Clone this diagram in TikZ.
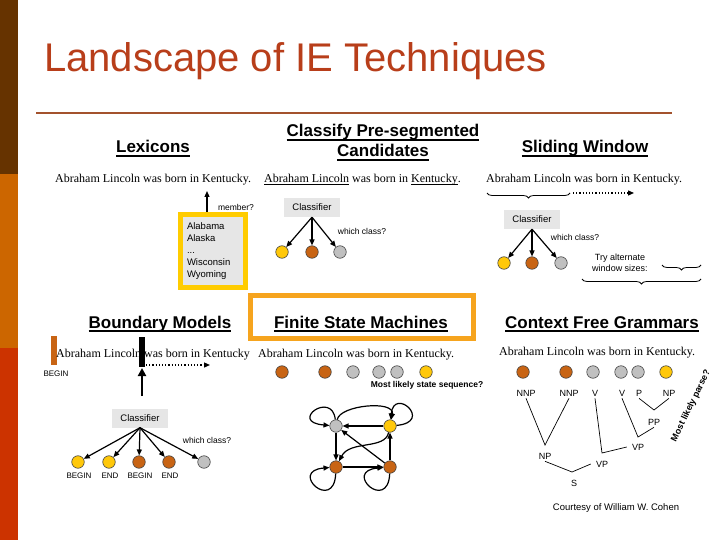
\documentclass[tikz,border=0pt]{standalone}
\usepackage{fontspec}
\setmainfont{Liberation Sans}
\newfontfamily\tnr{Liberation Serif}
\usepackage{tikz}
\usetikzlibrary{arrows.meta,positioning,calc,decorations.pathreplacing}

\definecolor{stripeA}{RGB}{102,51,0}
\definecolor{stripeB}{RGB}{204,102,0}
\definecolor{stripeC}{RGB}{204,51,0}
\definecolor{titlec}{RGB}{184,62,26}
\definecolor{rulec}{RGB}{163,82,45}
\definecolor{lexy}{RGB}{255,204,0}
\definecolor{fsmo}{RGB}{246,164,30}
\definecolor{dotY}{RGB}{255,200,10}
\definecolor{dotB}{RGB}{200,100,20}
\definecolor{dotG}{RGB}{192,192,192}
\definecolor{boxg}{RGB}{230,230,230}

% underline: thickness, depth below baseline, text
\newcommand\undl[3]{\setbox0=\hbox{#3}\rlap{\copy0}\rule[-#2]{\wd0}{#1}}
\newcommand\hdu[1]{\undl{1.4pt}{3.8pt}{#1}}
\newcommand\snu[1]{\undl{0.5pt}{1.8pt}{#1}}

\begin{document}
\begin{tikzpicture}[x=1pt,y=-1pt,
  hd/.style={font=\fontsize{17}{20}\selectfont\bfseries,align=center,inner sep=0pt,anchor=base},
  sent/.style={font=\tnr\fontsize{12}{14}\selectfont,inner sep=0pt,anchor=base west},
  clf/.style={fill=boxg,minimum width=56,minimum height=19,inner sep=0pt,font=\fontsize{9.5}{11}\selectfont},
  st/.style={circle,draw=black!75,line width=0.6pt,fill=#1,minimum size=12.5,inner sep=0pt},
  rx/.style={-{Triangle[length=6pt,width=5pt]},line width=1.2pt},
  dx/.style={-{Triangle[length=6pt,width=5pt]},dotted,line width=1.2pt},
  lab/.style={font=\fontsize{8.5}{10}\selectfont,inner sep=0pt},
  cat/.style={font=\fontsize{9}{10}\selectfont,inner xsep=5pt,inner ysep=2pt},
  tln/.style={line width=0.7pt},
  brc/.style={decorate,decoration={brace,mirror,amplitude=5pt},line width=0.8pt}]
  \useasboundingbox (0,0) rectangle (720,540);
  \fill[white] (0,0) rectangle (720,540);
  % side stripe and title
  \fill[stripeA] (0,0) rectangle (18,174);
  \fill[stripeB] (0,174) rectangle (18,348);
  \fill[stripeC] (0,348) rectangle (18,540);
  \node[anchor=base west,inner sep=0pt,text=titlec,font=\fontsize{40}{48}\selectfont] (title) at (44,72) {Landscape of IE Techniques};
  \draw[rulec,line width=2.5pt] (36,113) -- (672,113);

  % headings
  \node[hd] (lexh) at (153,153) {\hdu{Lexicons}};
  \node[hd] (clsh) at (383,157) {\hdu{Classify Pre-segmented}\\\hdu{Candidates}};
  \node[hd] (swh) at (585,153) {\hdu{Sliding Window}};
  \node[hd] (bmh) at (160,328) {\hdu{Boundary Models}};
  \node[hd] (fsmh) at (361,328) {\hdu{Finite State Machines}};
  \node[hd] (cfgh) at (602,328) {\hdu{Context Free Grammars}};
  \draw[fsmo,line width=5pt] (250.5,295.5) rectangle (473.5,338.5);

  % Lexicons
  \node[sent] (lexs) at (55,183) {Abraham Lincoln was born in Kentucky.};
  \node[draw=lexy,line width=5pt,fill=boxg,minimum width=65,minimum height=73,text width=52,align=left,inner sep=0pt,font=\fontsize{9.5}{12}\selectfont] (lexl) at (213,251) {Alabama\\Alaska\\...\\Wisconsin\\Wyoming};
  \coordinate (memtip) at (207,191);
  \draw[rx] (lexl.north -| memtip) -- (memtip);
  \node[lab] (mem) at (236,207) {member?};

  % Classify pre-segmented candidates
  \node[sent] (clss) at (264,183) {\snu{Abraham Lincoln} was born in \snu{Kentucky}.};
  \node[clf] (cc) at (312,207.5) {Classifier};
  \node[st=dotY] (c1) at (282,252) {};
  \node[st=dotB] (c2) at (312,252) {};
  \node[st=dotG] (c3) at (340,252) {};
  \foreach \n in {c1,c2,c3} \draw[rx] (cc.south) -- (\n);
  \node[lab] (cq) at (362,231) {which class?};

  % Sliding window
  \node[sent] (sws) at (486,183) {Abraham Lincoln was born in Kentucky.};
  \draw[brc] (487,193) -- (570,193);
  \coordinate (swa) at (573,193);
  \coordinate (swb) at (634,193);
  \draw[dx] (swa) -- (swb);
  \node[clf] (sc) at (532,219.5) {Classifier};
  \node[st=dotY] (s1) at (504,263) {};
  \node[st=dotB] (s2) at (532,263) {};
  \node[st=dotG] (s3) at (561,263) {};
  \foreach \n in {s1,s2,s3} \draw[rx] (sc.south) -- (\n);
  \node[lab] (sq) at (575,237) {which class?};
  \node[lab,align=center,font=\fontsize{9}{11}\selectfont] (try) at (620,263) {Try alternate\\window sizes:};
  \draw[brc] (662,265) -- (701,265);
  \draw[brc] (582,279) -- (701,279);

  % Boundary models
  \fill[dotB] (51,336) rectangle (57,365);
  \node[sent] (bms) at (56,357) {Abraham Lincoln was born in Kentucky};
  \node[lab,font=\fontsize{8}{9}\selectfont] (bg0) at (56,374) {BEGIN};
  \draw[line width=6pt] (142,337) -- (142,367);
  \coordinate (bup) at (142,368);
  \coordinate (bdn) at (142,396);
  \draw[line width=2.5pt,-{Triangle[length=8pt,width=8pt]}] (bdn) -- (bup);
  \coordinate (bda) at (146,365);
  \coordinate (bdb) at (210,365);
  \draw[dx] (bda) -- (bdb);
  \node[clf] (bc) at (140,418) {Classifier};
  \node[st=dotY] (b1) at (78,462) {};
  \node[st=dotY] (b2) at (109,462) {};
  \node[st=dotB] (b3) at (139,462) {};
  \node[st=dotB] (b4) at (169,462) {};
  \node[st=dotG] (b5) at (204,462) {};
  \foreach \n in {b1,b2,b3,b4,b5} \draw[rx] (bc.south) -- (\n);
  \node[lab] (bq) at (207,440) {which class?};
  \node[lab,font=\fontsize{8}{9}\selectfont] (bl1) at (79,476) {BEGIN};
  \node[lab,font=\fontsize{8}{9}\selectfont] (bl2) at (110,476) {END};
  \node[lab,font=\fontsize{8}{9}\selectfont] (bl3) at (140,476) {BEGIN};
  \node[lab,font=\fontsize{8}{9}\selectfont] (bl4) at (170,476) {END};

  % Finite state machines
  \node[sent] (fss) at (258,357) {Abraham Lincoln was born in Kentucky.};
  \node[st=dotB] (f1) at (282,372) {};
  \node[st=dotB] (f2) at (325,372) {};
  \node[st=dotG] (f3) at (353,372) {};
  \node[st=dotG] (f4) at (379,372) {};
  \node[st=dotG] (f5) at (397,372) {};
  \node[st=dotY] (f6) at (426,372) {};
  \node[lab,font=\fontsize{8.5}{10}\selectfont\bfseries] (fq) at (427,385) {Most likely state sequence?};
  \node[st=dotG] (fg) at (336,426) {};
  \node[st=dotY] (fy) at (390,426) {};
  \node[st=dotB] (fbl) at (336,467) {};
  \node[st=dotB] (fbr) at (390,467) {};
  \draw[rx] (fy) -- (fg);
  \draw[rx] (fg) -- (fbl);
  \draw[rx] (fbl) -- (fbr);
  \draw[rx] (fbr) -- (fy);
  \draw[rx] (fbr) -- (fg);
  \draw[rx] (fy) .. controls (385,450) and (350,440) .. (fbl);
  \draw[rx] (fg) .. controls (340,405) and (395,400) .. (fy);
  \draw[rx] (fg) .. controls +(-4,-36) and +(-48,-4) .. (fg);
  \draw[rx] (fy) .. controls +(44,-4) and +(4,-40) .. (fy);
  \draw[rx] (fbl) .. controls +(-2,46) and +(-48,4) .. (fbl);
  \draw[rx] (fbr) .. controls +(-2,46) and +(-48,4) .. (fbr);

  % Context free grammars
  \node[sent] (cfs) at (499,355) {Abraham Lincoln was born in Kentucky.};
  \node[st=dotB] (g1) at (523,372) {};
  \node[st=dotB] (g2) at (566,372) {};
  \node[st=dotG] (g3) at (593,372) {};
  \node[st=dotG] (g4) at (621,372) {};
  \node[st=dotG] (g5) at (638,372) {};
  \node[st=dotY] (g6) at (666,372) {};
  \node[cat] (nnpa) at (526,393) {NNP};
  \node[cat] (nnpb) at (569,393) {NNP};
  \node[cat] (va) at (595,393) {V};
  \node[cat] (vb) at (622,393) {V};
  \node[cat] (pa) at (639,393) {P};
  \node[cat] (npa) at (669,393) {NP};
  \node[cat] (npb) at (545,456) {NP};
  \node[cat] (sx) at (574,483) {S};
  \node[cat] (vpa) at (602,464) {VP};
  \node[cat] (vpb) at (638,447) {VP};
  \node[cat] (pp) at (654,422) {PP};
  \coordinate (jnp) at (545,445);
  \coordinate (js) at (572,472);
  \coordinate (jvpa) at (602,453);
  \coordinate (jvpb) at (638,437);
  \coordinate (jpp) at (654,410);
  \draw[tln] (nnpa.south) -- (jnp) -- (nnpb.south);
  \draw[tln] (npb.south) -- (js) -- (vpa.west);
  \draw[tln] (va.south) -- (jvpa) -- (vpb.west);
  \draw[tln] (vb.south) -- (jvpb) -- (pp.south);
  \draw[tln] (pa.south) -- (jpp) -- (npa.south);
  \node[rotate=64,inner sep=0pt,font=\fontsize{9}{10}\selectfont\bfseries] (parse) at (691,406) {Most likely parse?};
  \node[lab,font=\fontsize{9.5}{11}\selectfont] (cred) at (616,508) {Courtesy of William W. Cohen};
\end{tikzpicture}
\end{document}
